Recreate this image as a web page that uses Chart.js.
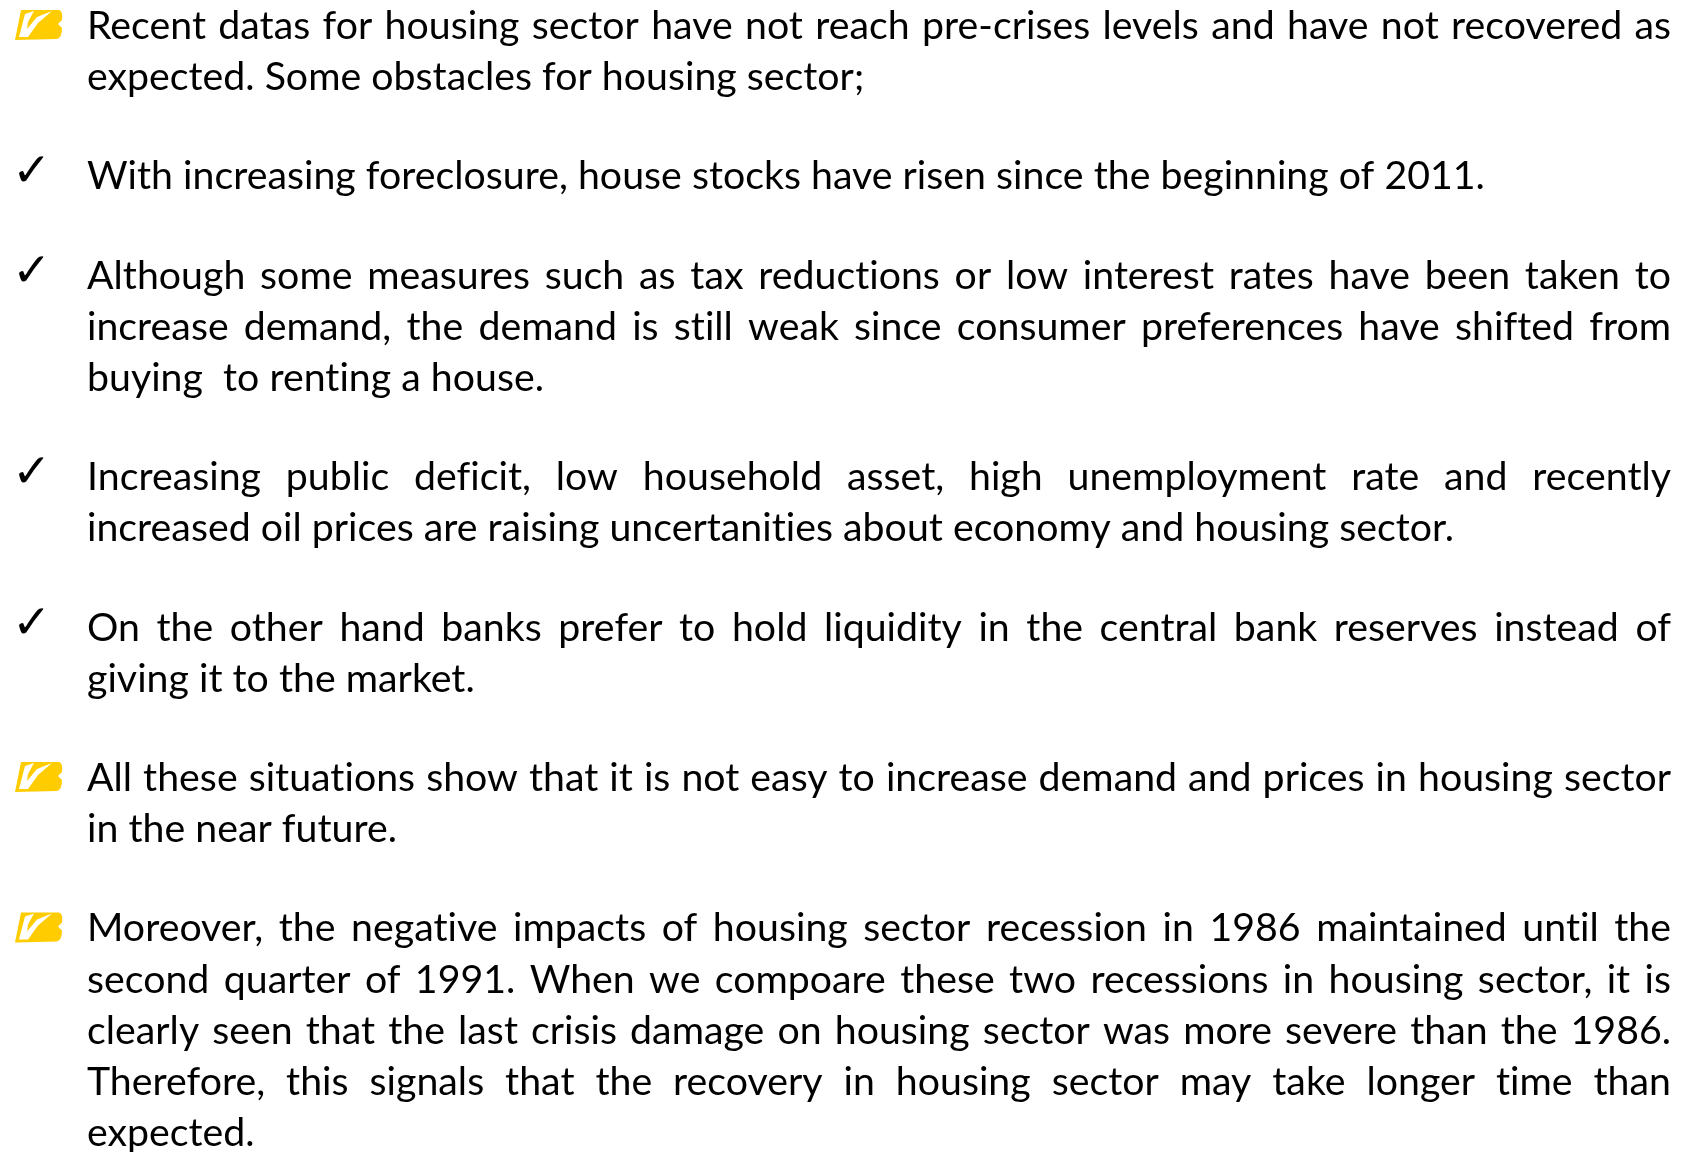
<!DOCTYPE html>
<html>
<head>
<meta charset="utf-8">
<title>Housing sector</title>
<script src="https://cdn.jsdelivr.net/npm/chart.js@4"></script>
<style>
  html, body { margin: 0; background: #fff; overflow: hidden; }
  canvas { display: block; }
</style>
</head>
<body>
<canvas id="slide" width="1682" height="1152"></canvas>
<script>
// the slide has no plot, only bullets, so the text is all the content there is
const paragraph1 = ["Recent datas for housing sector have not reach pre-crises levels and have not recovered as", "expected. Some obstacles for housing sector;"];
const paragraph2 = ["With increasing foreclosure, house stocks have risen since the beginning of 2011."];
const paragraph3 = ["Although some measures such as tax reductions or low interest rates have been taken to", "increase demand, the demand is still weak since consumer preferences have shifted from", "buying  to renting a house."];
const paragraph4 = ["Increasing public deficit, low household asset, high unemployment rate and recently", "increased oil prices are raising uncertanities about economy and housing sector."];
const paragraph5 = ["On the other hand banks prefer to hold liquidity in the central bank reserves instead of", "giving it to the market."];
const paragraph6 = ["All these situations show that it is not easy to increase demand and prices in housing sector", "in the near future."];
const paragraph7 = ["Moreover, the negative impacts of housing sector recession in 1986 maintained until the", "second quarter of 1991. When we compoare these two recessions in housing sector, it is", "clearly seen that the last crisis damage on housing sector was more severe than the 1986.", "Therefore, this signals that the recovery in housing sector may take longer time than", "expected."];
const paragraphs = [paragraph1, paragraph2, paragraph3, paragraph4, paragraph5, paragraph6, paragraph7];
const bullets = ["pen", "check", "check", "check", "check", "pen", "pen"];

const textLeft = 87;
const textRight = 1671;
const firstBaseline = 39;
const linePitch = 51.2;
const paragraphGap = 48;
const fontSize = 39;
const stretch = 1.007;

function drawPen(ctx, y) {
  // yellow marker blob with a white tick cut through it
  ctx.save();
  ctx.translate(0, y - 39);
  ctx.fillStyle = "#ffcc00";
  ctx.beginPath();
  ctx.moveTo(21, 10);
  ctx.lineTo(59, 10);
  ctx.quadraticCurveTo(63, 11, 62, 20);
  ctx.lineTo(58, 24);
  ctx.lineTo(62, 28);
  ctx.quadraticCurveTo(62, 38, 57, 39);
  ctx.lineTo(15, 40);
  ctx.closePath();
  ctx.fill();
  ctx.fillStyle = "#ffffff";
  ctx.beginPath();
  ctx.moveTo(19, 37);
  ctx.lineTo(25, 14);
  ctx.lineTo(34, 11);
  ctx.lineTo(28, 22);
  ctx.lineTo(27, 29);
  ctx.lineTo(37, 17);
  ctx.lineTo(52, 11);
  ctx.lineTo(38, 23);
  ctx.lineTo(28, 37);
  ctx.closePath();
  ctx.fill();
  ctx.restore();
}

const textPlugin = {
  id: "slideText",
  afterDraw(chart) {
    const ctx = chart.ctx;
    let y = firstBaseline;
    ctx.save();
    ctx.textBaseline = "alphabetic";
    ctx.textAlign = "left";
    ctx.fillStyle = "#000000";
    paragraphs.forEach((lines, p) => {
      if (bullets[p] === "pen") {
        drawPen(ctx, y);
      } else {
        ctx.font = "bold 47px 'DejaVu Sans'";
        ctx.letterSpacing = "0px";
        ctx.wordSpacing = "0px";
        ctx.fillText("\u2713", 12, y - 3);
      }
      lines.forEach((line, i) => {
        ctx.font = fontSize + "px Lato";
        ctx.letterSpacing = "0.01px"; // keeps Lato from joining "ti" into a ligature
        ctx.wordSpacing = "0px";
        ctx.save();
        ctx.translate(textLeft, y);
        ctx.scale(stretch, 1);
        if (i < lines.length - 1) {
          // justified like the original, every line but the last of a paragraph
          const spaces = line.split(" ").length - 1;
          const room = (textRight - textLeft) / stretch - ctx.measureText(line).width;
          ctx.wordSpacing = (room / spaces) + "px";
        }
        ctx.fillText(line, 0, 0);
        ctx.restore();
        if (i < lines.length - 1) y += linePitch;
      });
      y += linePitch + paragraphGap;
    });
    ctx.restore();
  }
};

new Chart(document.getElementById("slide"), {
  type: "bar",
  data: { labels: [], datasets: [] },
  options: {
    responsive: false,
    animation: false,
    layout: { padding: 0 },
    plugins: { legend: { display: false }, title: { display: false }, tooltip: { enabled: false } },
    scales: { x: { display: false }, y: { display: false } }
  },
  plugins: [textPlugin]
});
</script>
</body>
</html>
